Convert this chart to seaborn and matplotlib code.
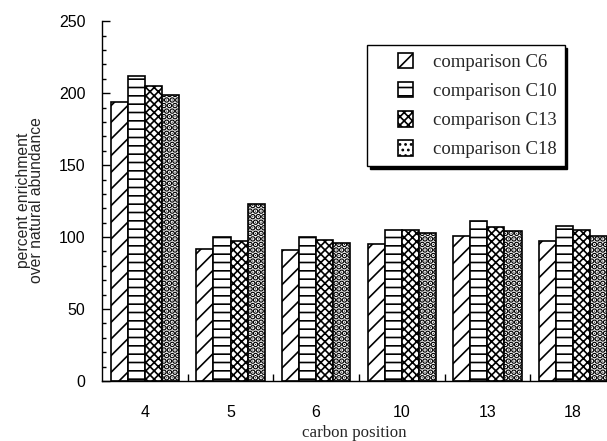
import numpy as np
import pandas as pd
import matplotlib
matplotlib.use("Agg")
import matplotlib.pyplot as plt
import seaborn as sns
from matplotlib.patches import Patch, Rectangle
from matplotlib.legend_handler import HandlerPatch
from matplotlib.ticker import MultipleLocator, FixedLocator

# values
positions = ["4", "5", "6", "10", "13", "18"]
series = ["comparison C6", "comparison C10", "comparison C13", "comparison C18"]
c6 = [194, 92, 91, 95, 101, 97]
c10 = [212, 100, 100, 105, 111, 108]
c13 = [205, 97, 98, 105, 107, 105]
c18 = [199, 123, 96, 103, 104, 101]
hatches = ["//", "--", "xxxx", "..."]

df = pd.DataFrame({
    "position": positions * 4,
    "series": np.repeat(series, len(positions)),
    "value": c6 + c10 + c13 + c18,
})

sns.set_theme(style="white")
plt.rcParams["hatch.linewidth"] = 1.2
plt.rcParams["hatch.color"] = "black"
sans = ["Liberation Sans", "DejaVu Sans"]
serif = ["Liberation Serif", "DejaVu Serif"]

fig = plt.figure(figsize=(6.07, 4.41), dpi=100)
ax = fig.add_axes([0.1684, 0.136, 0.846, 0.816])

sns.barplot(data=df, x="position", y="value", hue="series", order=positions,
            hue_order=series, palette=["white"] * 4, edgecolor="black",
            linewidth=1.2, width=0.8, errorbar=None, legend=False, ax=ax)


def style_patch(p, h):
    p.set_hatch(h)
    # dotted series gets fat blobs like the scanned original
    if h.startswith(".") and hasattr(p, "set_hatch_linewidth"):
        p.set_hatch_linewidth(3.1)


for cont, h in zip(ax.containers, hatches):
    for bar in cont:
        style_patch(bar, h)

ax.set_xlim(-0.5, 5.5)
ax.set_ylim(0, 250)
ax.yaxis.set_major_locator(MultipleLocator(50))
ax.yaxis.set_minor_locator(MultipleLocator(10))
ax.tick_params(axis="y", which="major", direction="in", length=6, width=1,
               pad=12, labelsize=11.5, color="black", left=True)
ax.tick_params(axis="y", which="minor", direction="in", length=3, width=1,
               color="black", left=True)
ax.xaxis.set_minor_locator(FixedLocator(np.arange(0.5, 5, 1)))
ax.tick_params(axis="x", which="major", length=0, pad=17, labelsize=11.5)
ax.tick_params(axis="x", which="minor", direction="in", length=5, width=1,
               color="black", bottom=True)
for lab in ax.get_xticklabels() + ax.get_yticklabels():
    lab.set_family(sans)
    lab.set_color("black")

sns.despine(ax=ax)
for s in ["left", "bottom"]:
    ax.spines[s].set_color("black")
    ax.spines[s].set_linewidth(1)
ax.set_xlabel("")
ax.set_ylabel("")

fig.text(354 / 607, 1 - 433 / 441, "carbon position", family=serif, fontsize=12.2,
         ha="center", va="center")
fig.text(30 / 607, 1 - 200 / 441, "percent enrichment\nover natural abundance",
         family=sans, fontsize=11.3, rotation=90, ha="center", va="center",
         multialignment="center", linespacing=0.9)


def small_square(legend, orig_handle, xdescent, ydescent, width, height, fontsize):
    side = 15.7 * 72 / fig.dpi
    return Rectangle((width - xdescent - side, -ydescent + (height - side) / 2),
                     side, side)


handles = []
for h, s in zip(hatches, series):
    p = Patch(facecolor="white", edgecolor="black", hatch=h, label=s, linewidth=1.2)
    style_patch(p, h)
    handles.append(p)

leg = fig.legend(handles=handles, loc="upper left", bbox_to_anchor=(367 / 607, 1 - 45 / 441),
                 prop={"family": serif, "size": 13.5}, frameon=True, fancybox=False,
                 edgecolor="black", framealpha=1, handlelength=2.05, handleheight=0.85,
                 handletextpad=1.05, labelspacing=0.6, borderpad=0.42, borderaxespad=0,
                 handler_map={Patch: HandlerPatch(patch_func=small_square)},
                 shadow={"color": "black", "alpha": 1})
leg.get_frame().set_linewidth(1)

fig.savefig("out.png", dpi=100)
